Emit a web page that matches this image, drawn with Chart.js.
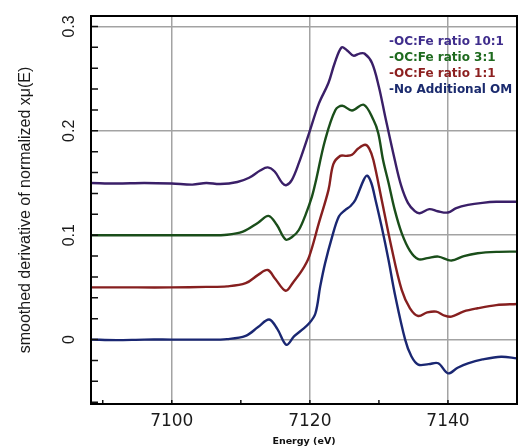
<!DOCTYPE html>
<html>
<head>
<meta charset="utf-8">
<script src="https://cdn.jsdelivr.net/npm/chart.js@4.4.1/dist/chart.umd.min.js"></script>
<style>
	html, body { margin: 0; padding: 0; background: #fff; }
	#wrap { width: 524px; height: 447px; }
</style>
</head>
<body>
<div id="wrap"><canvas id="myChart"></canvas></div>
<script>
const seriesLabels = ["-OC:Fe ratio 10:1", "-OC:Fe ratio 3:1", "-OC:Fe ratio 1:1", "-No Additional OM"]
const lineColors = ["#3a1f68", "#1a4e1a", "#861f1f", "#1a2772"]
const legendColors = ["#3f2d8c", "#1e6a1e", "#8c1f1f", "#1b2b6e"]

// OC:Fe 10:1
const energy10 = [7088.3, 7092, 7096, 7100, 7103, 7105, 7107, 7109.5, 7111.2, 7112.8, 7113.9, 7114.9, 7116.0, 7116.6, 7117.4, 7118.4, 7119.9, 7121.3, 7122.7, 7123.6, 7124.6, 7125.4, 7126.3, 7127.2, 7127.9, 7129.0, 7130.0, 7130.9, 7132.3, 7133.2, 7134.2, 7135.2, 7135.9, 7137.3, 7138.5, 7140.0, 7141.2, 7142.9, 7145, 7147, 7150]
const value10 = [0.150, 0.1495, 0.150, 0.1495, 0.1485, 0.150, 0.149, 0.151, 0.155, 0.162, 0.165, 0.161, 0.150, 0.148, 0.153, 0.169, 0.198, 0.226, 0.246, 0.265, 0.280, 0.277, 0.272, 0.274, 0.274, 0.265, 0.242, 0.214, 0.172, 0.148, 0.131, 0.123, 0.121, 0.125, 0.123, 0.1217, 0.126, 0.129, 0.131, 0.132, 0.132]

// OC:Fe 3:1
const energy3 = [7088.3, 7095, 7100, 7105, 7108, 7110.3, 7112.5, 7114.0, 7115.2, 7116.5, 7117.5, 7118.4, 7119.4, 7120.3, 7120.8, 7122.2, 7123.7, 7124.7, 7126.1, 7127.8, 7129.2, 7129.9, 7130.6, 7131.4, 7132.3, 7133.3, 7134.5, 7135.7, 7137.0, 7138.6, 7140.5, 7142.3, 7144.3, 7147, 7150]
const value3 = [0.100, 0.100, 0.100, 0.100, 0.1005, 0.1035, 0.112, 0.1185, 0.110, 0.0958, 0.0987, 0.105, 0.120, 0.137, 0.150, 0.191, 0.220, 0.224, 0.2195, 0.225, 0.2106, 0.198, 0.172, 0.150, 0.124, 0.102, 0.085, 0.077, 0.078, 0.0795, 0.0757, 0.080, 0.0827, 0.084, 0.0843]

// OC:Fe 1:1
const energy1 = [7088.3, 7095, 7100, 7105, 7108, 7110.7, 7112.5, 7113.9, 7115.0, 7116.5, 7117.6, 7118.9, 7119.9, 7121.3, 7122.7, 7123.4, 7124.4, 7125.3, 7126.1, 7127.0, 7128.0, 7128.6, 7129.2, 7130.4, 7131.8, 7133.3, 7134.5, 7135.7, 7137.0, 7138.3, 7139.5, 7140.5, 7142.3, 7144.3, 7147, 7150]
const value1 = [0.050, 0.050, 0.050, 0.0505, 0.051, 0.054, 0.062, 0.0667, 0.058, 0.0468, 0.055, 0.0667, 0.0795, 0.1115, 0.1434, 0.168, 0.176, 0.176, 0.177, 0.183, 0.1866, 0.183, 0.172, 0.134, 0.089, 0.0476, 0.030, 0.0226, 0.026, 0.0268, 0.023, 0.022, 0.027, 0.030, 0.033, 0.0341]

// No additional OM
const energy0 = [7088.3, 7092, 7096, 7100, 7105, 7108, 7110.7, 7112.5, 7114.1, 7115.3, 7116.6, 7117.7, 7118.8, 7119.9, 7120.8, 7121.5, 7122.2, 7123.2, 7124.2, 7125.1, 7125.9, 7126.6, 7127.8, 7128.3, 7128.9, 7129.5, 7130.4, 7131.4, 7132.3, 7133.8, 7134.7, 7135.7, 7137.2, 7138.6, 7140.0, 7141.4, 7142.9, 7145, 7147.7, 7150]
const value0 = [0.000, -0.0005, 0.000, 0.000, 0.000, 0.0005, 0.0035, 0.012, 0.0192, 0.010, -0.005, 0.003, 0.009, 0.0156, 0.025, 0.051, 0.073, 0.098, 0.118, 0.124, 0.128, 0.134, 0.153, 0.157, 0.150, 0.134, 0.108, 0.076, 0.044, 0.000, -0.016, -0.024, -0.0235, -0.0227, -0.0323, -0.027, -0.0227, -0.019, -0.0164, -0.018]

const xTicksMajor = [7100, 7120, 7140]
const yTickLabels = ["0", "0.1", "0.2", "0.3"]
const yTicksMajor = [0, 0.1, 0.2, 0.3]

const energies = [energy10, energy3, energy1, energy0]
const values = [value10, value3, value1, value0]

function isMajorY(v) {
	return Math.abs(v * 10 - Math.round(v * 10)) < 1e-6
}

function isMajorX(v) {
	return Math.abs(v % 20) < 1e-6
}

// frame, inward tick marks, rotated y labels and the in-plot legend
const framePlugin = {
	id: "frame",
	afterDraw(chart) {
		const ctx = chart.ctx
		const a = chart.chartArea
		const xs = chart.scales.x
		const ys = chart.scales.y
		ctx.save()

		ctx.strokeStyle = "#111"
		ctx.lineWidth = 1.5
		ctx.beginPath()
		ys.ticks.forEach(t => {
			const py = ys.getPixelForValue(t.value)
			ctx.moveTo(a.left, py)
			ctx.lineTo(a.left + 7, py)
		})
		xs.ticks.forEach(t => {
			const px = xs.getPixelForValue(t.value)
			ctx.moveTo(px, a.bottom)
			ctx.lineTo(px, a.bottom - 4)
		})
		ctx.stroke()

		ctx.lineWidth = 2
		ctx.strokeStyle = "#000"
		ctx.strokeRect(a.left, a.top, a.right - a.left, a.bottom - a.top)

		ctx.fillStyle = "#1a1a1a"
		ctx.font = "16px 'Liberation Sans', Arial, sans-serif"
		ctx.textAlign = "center"
		ctx.textBaseline = "middle"
		yTicksMajor.forEach((v, i) => {
			const py = ys.getPixelForValue(v)
			ctx.save()
			ctx.translate(70, py)
			ctx.rotate(-Math.PI / 2)
			ctx.fillText(yTickLabels[i], 0, 0)
			ctx.restore()
		})

		ctx.beginPath()
		ctx.rect(a.left, a.top, a.right - a.left - 1, a.bottom - a.top)
		ctx.clip()
		ctx.font = "bold 12px 'DejaVu Sans', Verdana, sans-serif"
		ctx.textAlign = "left"
		seriesLabels.forEach((label, i) => {
			ctx.fillStyle = legendColors[i]
			ctx.fillText(label, 389, 42 + i * 16)
		})
		ctx.restore()
	}
}

new Chart("myChart", {
	type: "line",
	data: {
		datasets: seriesLabels.map((label, i) => ({
			label: label,
			data: energies[i].map((e, j) => ({ x: e, y: values[i][j] })),
			borderColor: lineColors[i],
			borderWidth: 2.4,
			pointRadius: 0,
			fill: false,
			tension: 0.35
		}))
	},
	options: {
		responsive: true,
		maintainAspectRatio: false,
		animation: false,
		layout: {
			padding: { top: 16, right: 6, left: 0, bottom: 0 }
		},
		plugins: {
			legend: { display: false },
			tooltip: { enabled: false }
		},
		scales: {
			x: {
				type: "linear",
				min: 7088.3,
				max: 7150,
				afterFit: s => { s.height = 43 },
				border: { display: false },
				grid: {
					drawTicks: false,
					lineWidth: 1.5,
					color: c => isMajorX(c.tick.value) ? "#a3a3a3" : "rgba(0,0,0,0)"
				},
				ticks: {
					stepSize: 10,
					includeBounds: false,
					autoSkip: false,
					maxRotation: 0,
					padding: 7,
					color: "#1a1a1a",
					font: { family: "'DejaVu Sans', Verdana, sans-serif", size: 17 },
					callback: v => xTicksMajor.includes(v) ? String(v) : ""
				},
				title: {
					display: true,
					text: "Energy (eV)",
					color: "#111",
					font: { family: "'DejaVu Sans', sans-serif", size: 9.5, weight: "bold" },
					padding: { top: 0, bottom: 0 }
				}
			},
			y: {
				min: -0.0617,
				max: 0.31,
				afterFit: s => { s.width = 91 },
				border: { display: false },
				grid: {
					drawTicks: false,
					lineWidth: 1.5,
					color: c => isMajorY(c.tick.value) ? "#a3a3a3" : "rgba(0,0,0,0)"
				},
				ticks: {
					display: false,
					stepSize: 0.02,
					includeBounds: false
				},
				title: {
					display: true,
					text: "smoothed derivative of normalized xμ(E)",
					color: "#1a1a1a",
					font: { family: "'Liberation Sans', Arial, sans-serif", size: 16 },
					padding: { top: 16, bottom: 0 }
				}
			}
		}
	},
	plugins: [framePlugin]
})
</script>
</body>
</html>
